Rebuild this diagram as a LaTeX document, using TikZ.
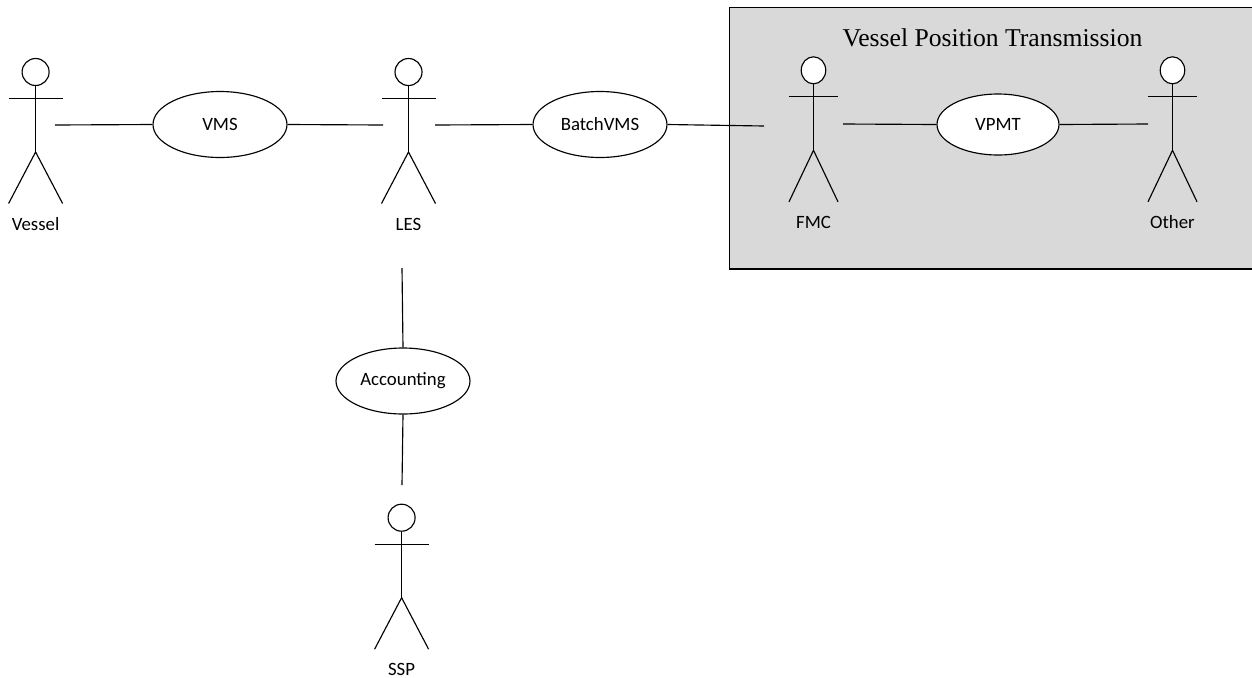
\documentclass[tikz,border=0pt]{standalone}
\usepackage{fontspec}
\setmainfont{Carlito}
\newfontfamily\titlefont{Liberation Serif}
\usetikzlibrary{shapes.geometric}
\definecolor{boxgrey}{HTML}{D9D9D9}
\tikzset{
  usecase/.style={draw,ellipse,fill=white,minimum width=2.68cm,minimum height=1.32cm,inner sep=0pt,font=\fontsize{10.7}{12}\selectfont},
  actorhead/.style={draw,ellipse,fill=white,minimum height=0.54cm,inner sep=0pt},
  actorname/.style={inner sep=0pt,font=\fontsize{10.7}{12}\selectfont}
}
% stick figure: name, x, y of the head, half span of the arms, label
\newcommand{\actor}[5]{
\node[actorhead,minimum width=#4*0.02cm] (#1) at (#2,#3) {};
\draw (#1.south) -- (#2,#3+80) coordinate (#1hip);
\draw (#2-#4,#3+26.5) -- (#2+#4,#3+26.5);
\draw (#2-#4,#3+131.5) -- (#1hip) -- (#2+#4,#3+131.5);
\node[actorname] (#1name) at (#2,#3+152) {#5};
}
\begin{document}
\begin{tikzpicture}[x=0.02cm,y=-0.02cm,line width=0.65pt]
\useasboundingbox (0,0) rectangle (1252,677);
\draw[fill=boxgrey,line width=1.1pt] (729.5,7.5) rectangle (1262,269);
\node[font=\titlefont\fontsize{14.6}{17}\selectfont] (title) at (992.5,37.5) {Vessel Position Transmission};
\actor{vessel}{35.6}{72}{27}{Vessel}
\actor{les}{408.5}{72}{27}{LES}
\actor{ssp}{401.6}{517.7}{27}{SSP}
\actor{fmc}{813.5}{70.3}{24.5}{FMC}
\actor{other}{1172.5}{70.3}{24.5}{Other}
\node[usecase] (vms) at (220,124.5) {VMS};
\node[usecase] (batch) at (600,124.5) {BatchVMS};
\node[usecase] (accounting) at (403,381) {Accounting};
\node[usecase,minimum width=2.44cm,minimum height=1.22cm] (vpmt) at (998,124.5) {VPMT};
% free ends stop short of the figures
\coordinate (vesselhand) at (55,125);
\coordinate (lesleft) at (383,125);
\coordinate (lesright) at (435,125);
\coordinate (lesfoot) at (402,268);
\coordinate (fmcleft) at (764,126);
\coordinate (fmcright) at (843,124);
\coordinate (otherleft) at (1148,124);
\coordinate (ssptop) at (402,485);
\draw (vesselhand) -- (vms.west);
\draw (vms.east) -- (lesleft);
\draw (lesright) -- (batch.west);
\draw (batch.east) -- (fmcleft);
\draw (fmcright) -- (vpmt.west);
\draw (vpmt.east) -- (otherleft);
\draw (lesfoot) -- (accounting.north);
\draw (accounting.south) -- (ssptop);
\end{tikzpicture}
\end{document}
